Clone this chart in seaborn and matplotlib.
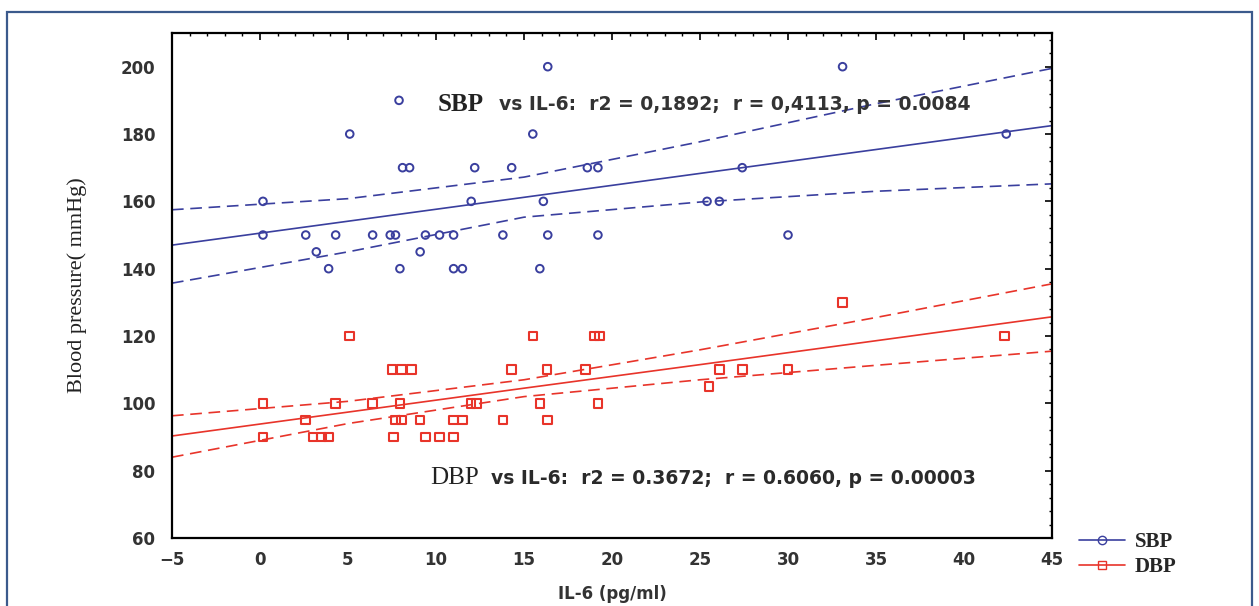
import pandas as pd
import matplotlib.pyplot as plt
import seaborn as sns
from matplotlib.lines import Line2D
from matplotlib.patches import Rectangle
from matplotlib.ticker import MultipleLocator

# IL-6 vs systolic blood pressure
sbp_il6 = [0.17, 0.17, 2.6, 3.2, 3.9, 4.3, 5.1, 6.4, 7.4, 7.7, 7.9, 7.95, 8.1, 8.5,
           9.1, 9.4, 10.2, 11.0, 11.0, 11.5, 12.0, 12.2, 13.8, 14.3, 15.5, 15.9,
           16.1, 16.35, 16.35, 18.6, 19.2, 19.2, 25.4, 26.1, 27.4, 30.0, 33.1, 42.4]
sbp_bp = [160, 150, 150, 145, 140, 150, 180, 150, 150, 150, 190, 140, 170, 170,
          145, 150, 150, 150, 140, 140, 160, 170, 150, 170, 180, 140,
          160, 200, 150, 170, 170, 150, 160, 160, 170, 150, 200, 180]

# IL-6 vs diastolic blood pressure
dbp_il6 = [0.17, 0.17, 2.6, 3.0, 3.5, 3.9, 4.3, 5.1, 6.4, 7.5, 7.6, 7.7, 7.95, 8.05,
           8.05, 8.6, 9.1, 9.4, 10.2, 11.0, 11.0, 11.5, 12.0, 12.3, 13.8, 14.3,
           15.5, 15.9, 16.3, 16.35, 18.5, 19.0, 19.3, 19.2, 25.5, 26.1, 27.4, 30.0,
           33.1, 42.3]
dbp_bp = [100, 90, 95, 90, 90, 90, 100, 120, 100, 110, 90, 95, 100, 110,
          95, 110, 95, 90, 90, 90, 95, 95, 100, 100, 95, 110,
          120, 100, 110, 95, 110, 120, 120, 100, 105, 110, 110, 110,
          130, 120]

# regression lines and 95% confidence bands
fit_x = [-5, 5, 15, 25, 35, 45]
sbp_fit = [147.0, 154.1, 161.2, 168.3, 175.4, 182.5]
sbp_upper = [157.5, 160.8, 167.2, 177.7, 189.0, 199.5]
sbp_lower = [135.7, 145.0, 155.3, 159.8, 163.0, 165.2]
dbp_fit = [90.3, 97.4, 104.5, 111.5, 118.6, 125.7]
dbp_upper = [96.3, 100.6, 107.0, 115.9, 125.5, 135.5]
dbp_lower = [84.0, 94.0, 102.0, 107.0, 111.3, 115.5]

sbp_text = 'vs IL-6:  r2 = 0,1892;  r = 0,4113, p = 0.0084'
dbp_text = 'vs IL-6:  r2 = 0.3672;  r = 0.6060, p = 0.00003'

blue = '#3a3f9e'
red = '#e8342a'

sns.set_style('white')
plt.rcParams['font.family'] = ['DejaVu Sans']

fig = plt.figure(figsize=(12.59, 6.06), dpi=100)
ax = fig.add_axes([0.1366, 0.1122, 0.699, 0.8333])

sbp = pd.DataFrame({'il6': sbp_il6, 'bp': sbp_bp})
dbp = pd.DataFrame({'il6': dbp_il6, 'bp': dbp_bp})
fits = pd.DataFrame({'x': fit_x, 'sbp': sbp_fit, 'sbp_u': sbp_upper, 'sbp_l': sbp_lower,
                     'dbp': dbp_fit, 'dbp_u': dbp_upper, 'dbp_l': dbp_lower})

dash = (0, (7, 4))

# fitted lines
sns.lineplot(data=fits, x='x', y='sbp', color=blue, lw=1.2, ax=ax)
sns.lineplot(data=fits, x='x', y='sbp_u', color=blue, lw=1.2, ls=dash, ax=ax)
sns.lineplot(data=fits, x='x', y='sbp_l', color=blue, lw=1.2, ls=dash, ax=ax)
sns.lineplot(data=fits, x='x', y='dbp', color=red, lw=1.2, ax=ax)
sns.lineplot(data=fits, x='x', y='dbp_u', color=red, lw=1.2, ls=dash, ax=ax)
sns.lineplot(data=fits, x='x', y='dbp_l', color=red, lw=1.2, ls=dash, ax=ax)

# points
sns.scatterplot(data=sbp, x='il6', y='bp', marker='o', s=30, fc='none', ec=blue,
                linewidth=1.4, ax=ax, zorder=3)
sns.scatterplot(data=dbp, x='il6', y='bp', marker='s', s=38, fc='none', ec=red,
                linewidth=1.5, ax=ax, zorder=3)

ax.set_xlim(-5, 45)
ax.set_ylim(60, 210)
ax.set_yticks(range(60, 201, 20))
ax.set_xticks(range(-5, 46, 5))
ax.xaxis.set_minor_locator(MultipleLocator(1))
ax.yaxis.set_minor_locator(MultipleLocator(4))
ax.tick_params(which='both', direction='in', top=True, right=True, color='black')
ax.tick_params(which='major', length=5, width=1.2, labelsize=12, labelcolor='#333333')
ax.tick_params(axis='y', which='major', pad=12)
ax.tick_params(axis='x', which='major', pad=9)
ax.tick_params(which='minor', length=2.5, width=1)
for lab in ax.get_xticklabels() + ax.get_yticklabels():
    lab.set_fontweight('bold')
for sp in ax.spines.values():
    sp.set_color('black')
    sp.set_linewidth(1.6)

ax.set_xlabel('IL-6 (pg/ml)', fontsize=12, fontweight='bold', color='#333333', labelpad=12)
ax.set_ylabel('Blood pressure( mmHg)', fontsize=16, family='Liberation Serif',
              color='#222222', labelpad=24)

# SBP / DBP in serif, the rest of the statistic in sans
ax.text(10.1, 188.7, 'SBP', fontsize=18, family='Liberation Serif', fontweight='bold',
        color='#222222', va='center')
ax.text(13.6, 188.7, sbp_text, fontsize=13.5, fontweight='bold', color='#333333', va='center')
ax.text(9.66, 77.8, 'DBP', fontsize=18, family='Liberation Serif',
        color='#222222', va='center')
ax.text(13.15, 77.8, dbp_text, fontsize=13.5, fontweight='bold', color='#2a2a2a', va='center')

# legend outside the axes
handles = [Line2D([], [], color=blue, marker='o', mfc='none', mec=blue, lw=1.2, ms=6),
           Line2D([], [], color=red, marker='s', mfc='none', mec=red, lw=1.2, ms=6)]
fig.legend(handles, ['SBP', 'DBP'], loc='center left', bbox_to_anchor=(0.842, 0.085),
           frameon=False, handlelength=2.2, handletextpad=0.5, labelspacing=0.25,
           prop={'family': 'Liberation Serif', 'weight': 'bold', 'size': 15})

# blue border around the figure
fig.patches.append(Rectangle((7 / 1259, -0.02), 1245 / 1259, 1.0 - 12 / 606 + 0.02,
                             transform=fig.transFigure, fill=False,
                             ec='#3b5a8c', lw=1.6))

plt.savefig('out.png', dpi=100)
